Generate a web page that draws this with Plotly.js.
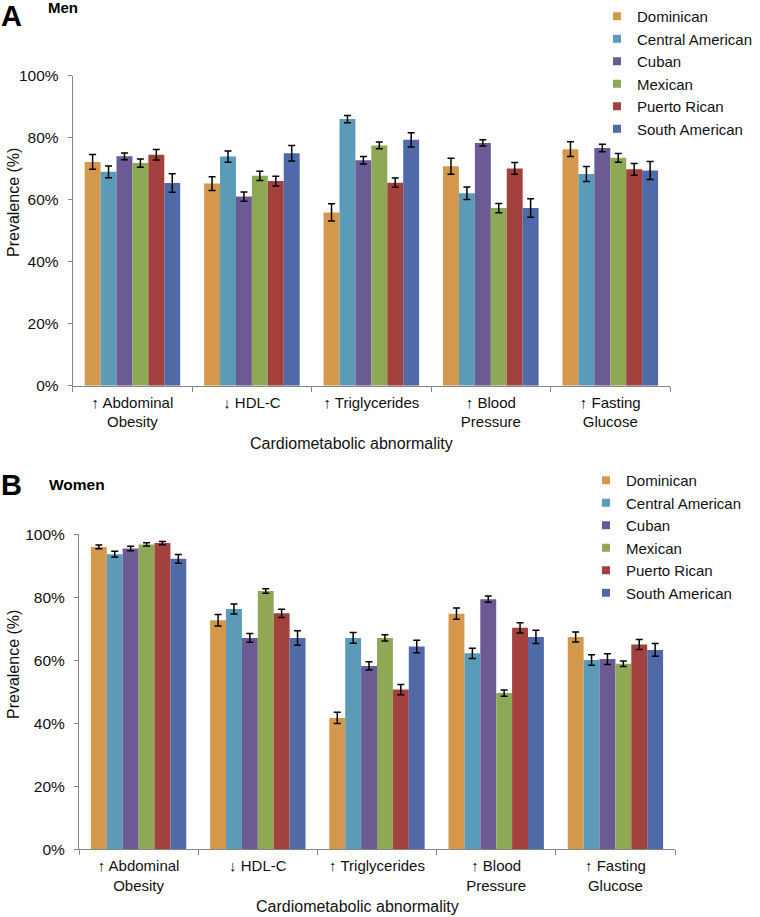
<!DOCTYPE html>
<html>
<head>
<meta charset="utf-8">
<script src="https://cdn.plot.ly/plotly-3.0.1.min.js"></script>
<style>
  html, body { margin: 0; padding: 0; background: #fff; }
  #chart { width: 760px; height: 917px; }
</style>
</head>
<body>
<div id="chart"></div>
<script>
// categories / series
const CATEGORIES = ['↑ Abdominal<br>Obesity', '↓ HDL-C', '↑ Triglycerides', '↑ Blood<br>Pressure', '↑ Fasting<br>Glucose'];
const GROUPS = ['Dominican', 'Central American', 'Cuban', 'Mexican', 'Puerto Rican', 'South American'];
const COLORS = ['#D4984C', '#5B9BB7', '#6B5A93', '#8FA855', '#A3413F', '#4F6AA6'];

// Men: prevalence (%) per group, in CATEGORIES order
const MEN_PCT = [
  [72.2, 65.2, 55.9, 70.8, 76.3],
  [69.0, 73.9, 86.0, 62.1, 68.3],
  [74.0, 61.0, 72.7, 78.3, 76.7],
  [71.8, 67.7, 77.5, 57.3, 73.5],
  [74.5, 66.0, 65.5, 70.1, 69.8],
  [65.4, 75.0, 79.3, 57.3, 69.4],
];
const MEN_ERR = [
  [2.4, 2.2, 2.8, 2.6, 2.4],
  [1.9, 1.8, 1.2, 2.0, 2.4],
  [1.1, 1.5, 1.2, 1.0, 1.2],
  [1.3, 1.5, 1.1, 1.5, 1.4],
  [1.7, 1.6, 1.5, 1.9, 1.9],
  [3.0, 2.5, 2.3, 3.0, 2.9],
];

// Women
const WOMEN_PCT = [
  [96.0, 72.7, 41.7, 74.8, 67.4],
  [93.7, 76.3, 67.1, 62.2, 60.1],
  [95.5, 67.1, 58.2, 79.4, 60.4],
  [96.8, 82.0, 67.1, 49.6, 58.9],
  [97.2, 74.9, 50.7, 70.3, 65.0],
  [92.2, 67.1, 64.4, 67.4, 63.3],
];
const WOMEN_ERR = [
  [0.6, 1.8, 1.8, 1.8, 1.6],
  [0.9, 1.6, 1.7, 1.6, 1.7],
  [0.7, 1.4, 1.3, 1.0, 1.7],
  [0.5, 0.7, 1.0, 1.0, 0.9],
  [0.5, 1.3, 1.6, 1.6, 1.6],
  [1.4, 2.3, 2.0, 2.1, 2.0],
];

const W = 760, H = 917;
// Liberation first (Arial metrics), DejaVu next so the arrows never fall back to an emoji font
const FONT = '"Liberation Sans", "DejaVu Sans", Arial, sans-serif';
const AXIS_GRAY = '#868686';
const px = (x) => x / W;
const py = (y) => 1 - y / H;

function panelTraces(values, errs, xa, ya, legend) {
  const traces = [];
  GROUPS.forEach((name, i) => {
    traces.push({
      type: 'bar', x: CATEGORIES, y: values[i], name, xaxis: xa, yaxis: ya,
      marker: { color: COLORS[i], line: { width: 0 } },
      error_y: { type: 'data', array: errs[i], visible: true, color: '#000', thickness: 1.5, width: 3.5 },
      showlegend: false, hoverinfo: 'x+y+name',
    });
  });
  // legend swatches (small squares like the original)
  GROUPS.forEach((name, i) => {
    traces.push({
      type: 'scatter', mode: 'markers', x: [null], y: [null], name, xaxis: xa, yaxis: ya,
      marker: { symbol: 'square', size: 8, color: COLORS[i] },
      legend, showlegend: true,
    });
  });
  return traces;
}

// paper-positioned text, anchors given explicitly (auto anchoring shifts them)
function label(text, x, y, size, extra = {}) {
  return {
    text, x: px(x), y: py(y), xref: 'paper', yref: 'paper',
    xanchor: 'center', yanchor: 'middle', showarrow: false,
    font: { family: FONT, size, color: '#000' }, ...extra,
  };
}

const xBase = {
  type: 'category', showline: true, linecolor: AXIS_GRAY, linewidth: 1,
  ticks: 'outside', tickson: 'boundaries', ticklen: 5, tickcolor: AXIS_GRAY,
  tickfont: { family: FONT, size: 15, color: '#111' }, showgrid: false, zeroline: false,
  ticklabelstandoff: 3, fixedrange: true, automargin: false,
};
const yBase = {
  range: [0, 100], dtick: 20, ticksuffix: '%', showline: true, linecolor: AXIS_GRAY, linewidth: 1,
  ticks: 'outside', ticklen: 4, tickcolor: AXIS_GRAY, tickfont: { family: FONT, size: 15.5, color: '#111' },
  ticklabelstandoff: 6, showgrid: false, zeroline: false, fixedrange: true, automargin: false,
};

const layout = {
  width: W, height: H,
  margin: { l: 0, r: 0, t: 0, b: 0 },
  paper_bgcolor: '#fff', plot_bgcolor: '#fff',
  font: { family: FONT, size: 15, color: '#111' },
  barmode: 'group', bargap: 0.2, bargroupgap: 0,
  xaxis: { ...xBase, domain: [px(72.7), px(670)], anchor: 'y' },
  yaxis: { ...yBase, domain: [py(385.7), py(75.7)], anchor: 'x' },
  xaxis2: { ...xBase, domain: [px(79), px(675)], anchor: 'y2' },
  yaxis2: { ...yBase, domain: [py(849.3), py(534.3)], anchor: 'x2' },
  legend: {
    x: px(597), xanchor: 'left', y: 1, yanchor: 'top',
    font: { size: 15, color: '#111' }, bgcolor: 'rgba(0,0,0,0)',
  },
  legend2: {
    x: px(586), xanchor: 'left', y: py(464), yanchor: 'top',
    font: { size: 15, color: '#111' }, bgcolor: 'rgba(0,0,0,0)',
  },
  annotations: [
    label('<b>A</b>', 11, 16.5, 29),
    label('<b>Men</b>', 46, 7.5, 15, { xanchor: 'left' }),
    label('<b>B</b>', 11, 485, 29),
    label('<b>Women</b>', 47, 484, 15.5, { xanchor: 'left' }),
    label('Cardiometabolic abnormality', 248, 443, 16, { xanchor: 'left', font: { family: FONT, size: 16, color: '#111' } }),
    label('Cardiometabolic abnormality', 254, 906, 16, { xanchor: 'left', font: { family: FONT, size: 16, color: '#111' } }),
    label('Prevalence (%)', 13, 203, 16, { textangle: -90, font: { family: FONT, size: 16, color: '#111' } }),
    label('Prevalence (%)', 13, 665, 16, { textangle: -90, font: { family: FONT, size: 16, color: '#111' } }),
  ],
};

const traces = [
  ...panelTraces(MEN_PCT, MEN_ERR, 'x', 'y', 'legend'),
  ...panelTraces(WOMEN_PCT, WOMEN_ERR, 'x2', 'y2', 'legend2'),
];

Plotly.newPlot('chart', traces, layout, { displayModeBar: false, responsive: false });
</script>
</body>
</html>
